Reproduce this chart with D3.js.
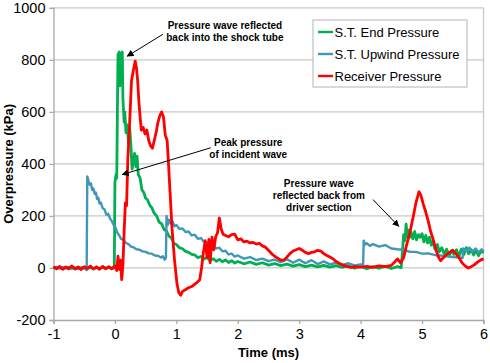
<!DOCTYPE html>
<html>
<head>
<meta charset="utf-8">
<script src="https://cdn.jsdelivr.net/npm/d3@7"></script>
<style>
  body { margin: 0; background: #fff; }
  text { font-family: "Liberation Sans", Arial, sans-serif; }
</style>
</head>
<body>
<svg id="chart" width="490" height="363"></svg>
<script>
// [time (ms), overpressure (kPa)]
const endPressure = [
  [-1,2],[-0.95,-3],[-0.9,4],[-0.85,-2],[-0.8,3],[-0.75,-4],[-0.7,2],[-0.65,-3],[-0.6,4],[-0.55,-2],
  [-0.5,3],[-0.45,-3],[-0.4,2],[-0.35,-4],[-0.3,3],[-0.25,-2],[-0.2,4],[-0.15,-3],[-0.1,2],[-0.05,-3],
  [-0.01,1],[0.0,330],[0.02,360],[0.03,345],[0.04,600],[0.05,820],[0.07,830],[0.08,700],[0.09,825],
  [0.11,810],[0.12,830],[0.13,650],[0.15,560],[0.16,600],[0.18,520],[0.2,550],[0.22,480],[0.24,540],
  [0.26,470],[0.28,380],[0.3,410],[0.32,440],[0.34,390],[0.36,430],[0.38,360],[0.41,345],[0.44,300],
  [0.47,290],[0.5,268],[0.53,262],[0.57,240],[0.6,232],[0.64,210],[0.68,200],[0.72,176],[0.76,170],
  [0.8,148],[0.84,142],[0.88,122],[0.92,115],[0.96,94],[1.0,90],[1.05,78],[1.1,74],[1.15,64],[1.2,60],
  [1.25,52],[1.3,50],[1.35,40],[1.4,44],[1.45,34],[1.5,40],[1.55,28],[1.6,36],[1.65,26],[1.7,33],
  [1.75,24],[1.8,31],[1.85,21],[1.9,28],[1.95,19],[2.0,25],[2.1,16],[2.2,23],[2.3,14],[2.4,20],
  [2.5,11],[2.6,17],[2.7,9],[2.8,15],[2.9,7],[3.0,13],[3.1,5],[3.2,11],[3.3,4],[3.4,10],[3.5,3],
  [3.6,9],[3.7,2],[3.8,8],[3.9,-1],[4.0,6],[4.1,-3],[4.2,5],[4.3,-1],[4.4,6],[4.5,-2],[4.6,5],[4.66,1],
  [4.68,60],[4.7,128],[4.72,105],[4.74,168],[4.76,120],[4.78,145],[4.8,118],[4.82,138],[4.85,112],
  [4.88,140],[4.91,108],[4.94,128],[4.97,118],[5.0,132],[5.03,100],[5.06,125],[5.09,96],[5.12,118],
  [5.15,88],[5.18,104],[5.21,72],[5.25,90],[5.28,62],[5.32,78],[5.36,55],[5.4,72],[5.44,48],[5.48,66],
  [5.52,52],[5.56,70],[5.6,45],[5.64,72],[5.68,52],[5.72,78],[5.76,55],[5.8,70],[5.84,50],[5.88,68],
  [5.92,47],[5.96,66],[6.0,58]
];
const upwindPressure = [
  [-1,0],[-0.95,4],[-0.9,-3],[-0.85,3],[-0.8,-2],[-0.75,4],[-0.7,-3],[-0.65,2],[-0.6,-4],[-0.55,3],
  [-0.5,-2],[-0.46,-8],[-0.45,352],[-0.43,335],[-0.41,320],[-0.39,325],[-0.37,300],[-0.35,305],
  [-0.33,285],[-0.31,290],[-0.29,265],[-0.27,270],[-0.25,248],[-0.23,252],[-0.2,230],[-0.17,225],
  [-0.14,205],[-0.11,208],[-0.08,190],[-0.05,180],[-0.02,165],[0.01,155],[0.04,135],[0.07,125],
  [0.1,112],[0.14,108],[0.18,96],[0.22,92],[0.26,82],[0.3,80],[0.35,72],[0.4,70],[0.45,64],[0.5,62],
  [0.55,56],[0.6,55],[0.65,48],[0.7,47],[0.75,40],[0.78,45],[0.81,32],[0.83,40],[0.84,200],[0.86,165],
  [0.88,185],[0.91,170],[0.94,178],[0.97,160],[1.0,165],[1.05,150],[1.1,152],[1.15,138],[1.2,140],
  [1.25,125],[1.3,128],[1.35,112],[1.4,115],[1.45,100],[1.5,98],[1.55,85],[1.6,88],[1.65,75],[1.7,78],
  [1.75,64],[1.8,66],[1.85,52],[1.9,55],[1.95,44],[2.0,48],[2.1,36],[2.2,42],[2.3,30],[2.4,36],
  [2.5,26],[2.6,32],[2.7,22],[2.8,34],[2.9,20],[3.0,32],[3.1,18],[3.2,30],[3.3,15],[3.4,25],[3.5,14],
  [3.6,20],[3.7,12],[3.8,18],[3.9,10],[4.0,14],[4.04,12],[4.05,105],[4.07,90],[4.1,95],[4.15,85],
  [4.2,92],[4.3,82],[4.4,88],[4.5,75],[4.6,72],[4.7,70],[4.8,62],[4.9,62],[5.0,55],[5.1,56],[5.2,50],
  [5.3,48],[5.4,45],[5.5,42],[5.6,40],[5.66,38],[5.67,75],[5.72,65],[5.77,78],[5.82,62],[5.87,75],
  [5.92,60],[5.97,72],[6.0,65]
];
const receiverPressure = [
  [-1,5],[-0.95,-3],[-0.9,6],[-0.85,-5],[-0.8,4],[-0.75,-2],[-0.7,8],[-0.65,-4],[-0.6,3],[-0.55,-6],
  [-0.5,5],[-0.45,-2],[-0.4,7],[-0.35,-3],[-0.3,4],[-0.25,-5],[-0.2,6],[-0.15,-2],[-0.1,5],[-0.05,-3],
  [0.0,8],[0.03,-10],[0.05,45],[0.07,-5],[0.09,30],[0.11,-45],[0.13,10],[0.15,140],[0.17,250],
  [0.19,240],[0.21,420],[0.24,560],[0.27,720],[0.3,760],[0.33,795],[0.35,770],[0.37,720],[0.39,640],
  [0.41,580],[0.43,530],[0.46,540],[0.49,515],[0.52,530],[0.55,490],[0.58,470],[0.61,460],[0.64,490],
  [0.67,520],[0.7,560],[0.73,585],[0.76,600],[0.79,580],[0.82,510],[0.85,490],[0.87,410],[0.9,280],
  [0.93,150],[0.97,30],[1.01,-60],[1.04,-95],[1.07,-105],[1.1,-90],[1.14,-85],[1.18,-78],[1.22,-74],
  [1.26,-70],[1.3,-62],[1.34,-55],[1.38,-45],[1.41,0],[1.44,60],[1.47,105],[1.5,40],[1.53,110],
  [1.55,20],[1.58,118],[1.61,70],[1.64,120],[1.67,135],[1.7,192],[1.73,150],[1.76,130],[1.8,125],
  [1.85,120],[1.9,128],[1.95,130],[2.0,108],[2.05,112],[2.1,100],[2.15,103],[2.2,96],[2.25,98],
  [2.3,92],[2.35,95],[2.4,85],[2.45,80],[2.5,68],[2.55,55],[2.6,45],[2.65,38],[2.7,30],[2.75,30],
  [2.8,42],[2.85,55],[2.9,65],[2.95,70],[3.0,75],[3.05,68],[3.1,60],[3.15,55],[3.2,60],[3.25,62],
  [3.3,68],[3.35,65],[3.4,55],[3.45,48],[3.5,42],[3.55,35],[3.6,25],[3.65,18],[3.7,12],[3.75,8],
  [3.8,4],[3.85,2],[3.9,5],[4.0,3],[4.1,6],[4.2,2],[4.3,8],[4.4,5],[4.5,10],[4.55,22],[4.6,35],
  [4.65,20],[4.7,40],[4.75,90],[4.8,135],[4.85,190],[4.9,250],[4.95,293],[4.98,280],[5.02,245],
  [5.06,215],[5.1,180],[5.14,140],[5.18,110],[5.22,75],[5.26,45],[5.3,28],[5.35,40],[5.4,52],
  [5.45,60],[5.5,68],[5.55,55],[5.6,40],[5.65,20],[5.7,8],[5.75,0],[5.8,5],[5.85,12],[5.9,22],
  [5.95,30],[6.0,35]
];
const seriesNames = ["S.T. End Pressure", "S.T. Upwind Pressure", "Receiver Pressure"];
const seriesColors = ["#00b050", "#4197b7", "#ff0000"];
const xTicks = [-1, 0, 1, 2, 3, 4, 5, 6];
const yTicks = [-200, 0, 200, 400, 600, 800, 1000];

// annotations placed in data units: text centre, arrow tail, arrow head
const notes = [
  { lines: ["Pressure wave reflected", "back into the shock tube"], x: 1.79, y: 933, from: [0.78, 898], to: [0.2, 814] },
  { lines: ["Peak pressure", "of incident wave"], x: 2.17, y: 481, from: [1.56, 462], to: [0.12, 359] },
  { lines: ["Pressure wave", "reflected back from", "driver section"], x: 3.32, y: 324, from: [4.2, 263], to: [4.62, 160] }
];

const svg = d3.select("#chart");
const x = d3.scaleLinear().domain([-1, 6]).range([53.5, 483.5]);
const y = d3.scaleLinear().domain([-200, 1000]).range([320, 7.8]);

// gridlines
svg.append("g")
  .selectAll("line")
  .data(yTicks.filter(d => d > -200))
  .join("line")
  .attr("x1", x(-1)).attr("x2", x(6))
  .attr("y1", d => y(d)).attr("y2", d => y(d))
  .attr("stroke", "#c8c8c8")
  .attr("stroke-width", 1.3);
// right border
svg.append("line")
  .attr("x1", x(6)).attr("x2", x(6))
  .attr("y1", y(1000)).attr("y2", y(-200))
  .attr("stroke", "#c8c8c8")
  .attr("stroke-width", 1.3);

// axes
const yAxis = svg.append("g")
  .attr("transform", `translate(${x(-1)},0)`)
  .call(d3.axisLeft(y).tickValues(yTicks).tickSize(4).tickPadding(4));
const xAxis = svg.append("g")
  .attr("transform", `translate(0,${y(-200)})`)
  .call(d3.axisBottom(x).tickValues(xTicks).tickSize(4).tickPadding(5).tickFormat(d3.format("d")));
[yAxis, xAxis].forEach(ax => {
  ax.select(".domain").attr("stroke", "#a8a8a8").attr("stroke-width", 1.3);
  ax.selectAll(".tick line").attr("stroke", "#a8a8a8").attr("stroke-width", 1.3);
  ax.selectAll(".tick text")
    .attr("fill", "#000")
    .style("font-family", '"Liberation Sans", Arial, sans-serif')
    .style("font-size", "14.5px");
});
xAxis.selectAll(".tick text").text(d => d < 0 ? "-" + Math.abs(d) : d);
yAxis.selectAll(".tick text").text(d => d < 0 ? "-" + Math.abs(d) : d);

// axis titles
svg.append("text")
  .attr("x", (x(-1) + x(6)) / 2)
  .attr("y", 357)
  .attr("text-anchor", "middle")
  .style("font-size", "13px")
  .style("font-weight", "bold")
  .text("Time (ms)");
svg.append("text")
  .attr("transform", `translate(13,${(y(1000) + y(-200)) / 2}) rotate(-90)`)
  .attr("text-anchor", "middle")
  .style("font-size", "13px")
  .style("font-weight", "bold")
  .text("Overpressure (kPa)");

// series
const line = d3.line().x(d => x(d[0])).y(d => y(d[1]));
const allSeries = [endPressure, upwindPressure, receiverPressure];
svg.append("g")
  .selectAll("path")
  .data(allSeries)
  .join("path")
  .attr("d", line)
  .attr("fill", "none")
  .attr("stroke", (d, i) => seriesColors[i])
  .attr("stroke-width", (d, i) => i === 1 ? 2.4 : 2.8)
  .attr("stroke-linejoin", "round");

// arrow marker
svg.append("defs").append("marker")
  .attr("id", "arrow")
  .attr("viewBox", "0 0 10 10")
  .attr("refX", 9).attr("refY", 5)
  .attr("markerWidth", 7).attr("markerHeight", 7)
  .attr("markerUnits", "userSpaceOnUse")
  .attr("orient", "auto")
  .append("path")
  .attr("d", "M0,0L10,5L0,10z")
  .attr("fill", "#000");

// annotations
const ann = svg.append("g");
notes.forEach(n => {
  ann.append("line")
    .attr("x1", x(n.from[0])).attr("y1", y(n.from[1]))
    .attr("x2", x(n.to[0])).attr("y2", y(n.to[1]))
    .attr("stroke", "#000")
    .attr("stroke-width", 1)
    .attr("marker-end", "url(#arrow)");
  n.lines.forEach((t, i) => {
    ann.append("text")
      .attr("x", x(n.x))
      .attr("y", y(n.y) + i * 12)
      .attr("text-anchor", "middle")
      .attr("dominant-baseline", "central")
      .style("font-size", "10px")
      .style("font-weight", "bold")
      .text(t);
  });
});

// legend
const legend = svg.append("g").attr("transform", "translate(313,20)");
legend.append("rect")
  .attr("width", 154).attr("height", 67)
  .attr("fill", "#fff")
  .attr("stroke", "#b4b4b4")
  .attr("stroke-width", 1);
const item = legend.selectAll("g")
  .data(seriesNames)
  .join("g")
  .attr("transform", (d, i) => `translate(5,${12 + i * 22})`);
item.append("line")
  .attr("x1", 0).attr("x2", 15)
  .attr("stroke", (d, i) => seriesColors[i])
  .attr("stroke-width", 2.4);
item.append("text")
  .attr("x", 16.5)
  .attr("dy", "0.35em")
  .style("font-size", "13px")
  .text(d => d);
</script>
</body>
</html>
